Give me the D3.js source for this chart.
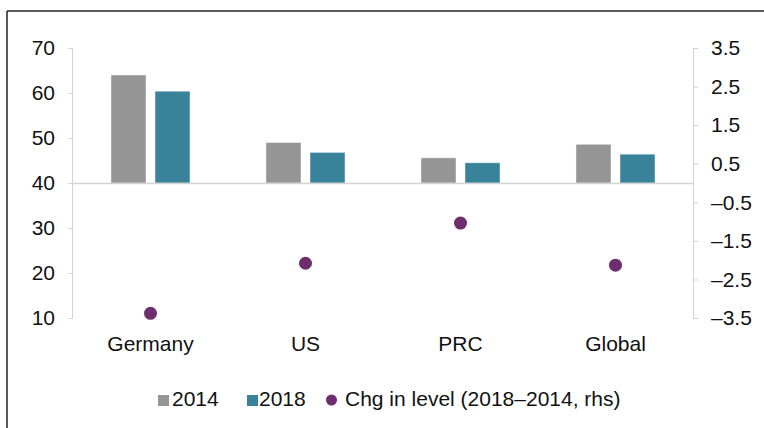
<!DOCTYPE html>
<html>
<head>
<meta charset="utf-8">
<script src="https://cdn.jsdelivr.net/npm/d3@7"></script>
<style>
  html, body { margin: 0; padding: 0; background: #fff; }
  svg { display: block; font-family: "Liberation Sans", Arial, sans-serif; }
</style>
</head>
<body>
<svg id="chart" width="764" height="428"></svg>
<script>
const categories = ["Germany", "US", "PRC", "Global"];
const seriesNames = ["2014", "2018"];
const values2014 = [64.0, 49.0, 45.6, 48.6];
const values2018 = [60.4, 46.8, 44.5, 46.4];
const changeLevel = [-3.38, -2.08, -1.04, -2.13];
const leftTicks = [10, 20, 30, 40, 50, 60, 70];
const rightTicks = [-3.5, -2.5, -1.5, -0.5, 0.5, 1.5, 2.5, 3.5];
const legendLabels = ["2014", "2018", "Chg in level (2018\u20132014, rhs)"];

const colors = { "2014": "#959595", "2018": "#38839a", dot: "#6e2d6e" };
const axisColor = "#d3d3d3";
const fontSize = 21;

const svg = d3.select("#chart");

// frame
svg.append("line").attr("x1", 7).attr("x2", 7).attr("y1", 11).attr("y2", 428)
  .attr("stroke", "#222").attr("stroke-width", 1.5);
svg.append("line").attr("x1", 7).attr("x2", 764).attr("y1", 11).attr("y2", 11)
  .attr("stroke", "#222").attr("stroke-width", 1.5);

const plotLeft = 73, plotRight = 693, plotTop = 48, plotBottom = 318;

const x0 = d3.scaleBand().domain(categories).range([plotLeft, plotRight])
  .paddingInner(0.49).paddingOuter(0.245);
const x1 = d3.scaleBand().domain(seriesNames).range([0, x0.bandwidth()])
  .paddingInner(0.2045).paddingOuter(0);
const yL = d3.scaleLinear().domain([10, 70]).range([plotBottom, plotTop]);
const yR = d3.scaleLinear().domain([-3.5, 3.5]).range([plotBottom, plotTop]);

const fmtR = v => (v < 0 ? "\u2013" : "") + Math.abs(v).toFixed(1);

// left axis
const leftAxis = d3.axisLeft(yL).tickValues(leftTicks).tickSize(5).tickPadding(13)
  .tickFormat(d3.format("d"));
const gL = svg.append("g").attr("transform", `translate(${plotLeft},0)`).call(leftAxis);
gL.select(".domain").attr("stroke", axisColor).attr("d", `M-0.5,${plotTop}V${plotBottom}`);
gL.selectAll(".tick line").attr("stroke", axisColor);
gL.selectAll(".tick text").attr("font-size", fontSize).attr("fill", "#111")
  .attr("font-family", "Liberation Sans, Arial, sans-serif");

// right axis
const rightAxis = d3.axisRight(yR).tickValues(rightTicks).tickSize(5).tickPadding(13)
  .tickFormat(fmtR);
const gR = svg.append("g").attr("transform", `translate(${plotRight},0)`).call(rightAxis);
gR.select(".domain").attr("stroke", axisColor).attr("d", `M0.5,${plotTop}V${plotBottom}`);
gR.selectAll(".tick line").attr("stroke", axisColor);
gR.selectAll(".tick text").attr("font-size", fontSize).attr("fill", "#111")
  .attr("font-family", "Liberation Sans, Arial, sans-serif");

// bars (from 40 baseline)
const rows = categories.map((c, i) => ({ cat: c, vals: [values2014[i], values2018[i]], chg: changeLevel[i] }));
const base = 40;
const groups = svg.append("g").selectAll("g").data(rows).join("g")
  .attr("transform", d => `translate(${x0(d.cat)},0)`);
groups.selectAll("rect").data(d => seriesNames.map((s, j) => ({ s, v: d.vals[j] })))
  .join("rect")
  .attr("x", d => x1(d.s))
  .attr("width", x1.bandwidth())
  .attr("y", d => yL(Math.max(d.v, base)))
  .attr("height", d => Math.abs(yL(d.v) - yL(base)))
  .attr("fill", d => colors[d.s])
  .attr("stroke", "rgba(255,255,255,0.45)")
  .attr("stroke-width", 1);

// baseline at 40
svg.append("line").attr("x1", plotLeft).attr("x2", plotRight)
  .attr("y1", Math.round(yL(base)) + 0.5).attr("y2", Math.round(yL(base)) + 0.5)
  .attr("stroke", axisColor).attr("stroke-width", 1.5);

// dots
svg.append("g").selectAll("circle").data(rows).join("circle")
  .attr("cx", d => x0(d.cat) + x0.bandwidth() / 2)
  .attr("cy", d => yR(d.chg))
  .attr("r", 6.5)
  .attr("fill", colors.dot);

// category labels
svg.append("g").selectAll("text").data(categories).join("text")
  .attr("x", d => x0(d) + x0.bandwidth() / 2)
  .attr("y", 351)
  .attr("text-anchor", "middle")
  .attr("font-size", fontSize)
  .attr("fill", "#111")
  .text(d => d);

// legend
const lg = svg.append("g");
const legendY = 406;
const items = [
  { type: "rect", color: colors["2014"], x: 158, tx: 172, label: legendLabels[0] },
  { type: "rect", color: colors["2018"], x: 247, tx: 259, label: legendLabels[1] },
  { type: "circle", color: colors.dot, x: 331.5, tx: 345, label: legendLabels[2] }
];
items.forEach(it => {
  if (it.type === "rect") {
    lg.append("rect").attr("x", it.x).attr("y", legendY - 11).attr("width", 11).attr("height", 11)
      .attr("fill", it.color);
  } else {
    lg.append("circle").attr("cx", it.x).attr("cy", legendY - 6).attr("r", 5.5).attr("fill", it.color);
  }
  lg.append("text").attr("x", it.tx).attr("y", legendY).attr("font-size", fontSize)
    .attr("fill", "#111").text(it.label);
});
</script>
</body>
</html>
